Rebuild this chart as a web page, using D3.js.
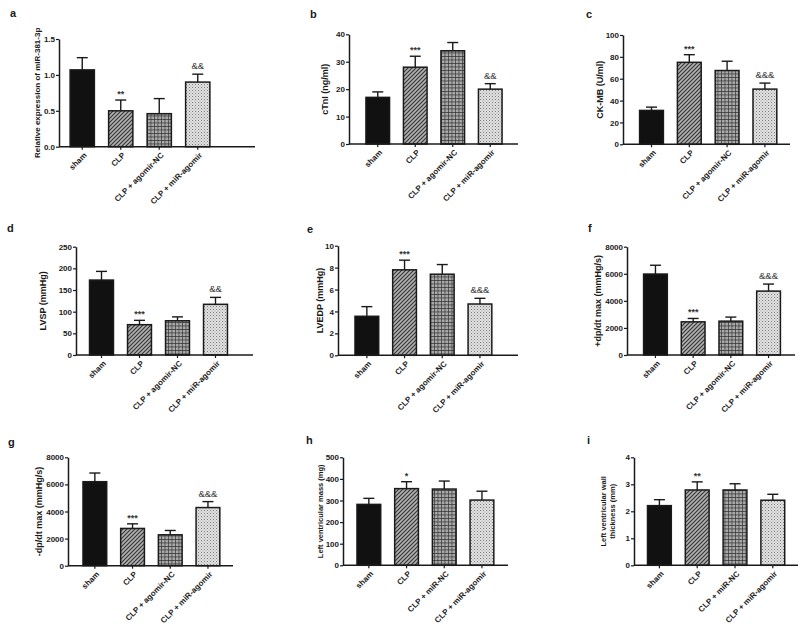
<!DOCTYPE html>
<html>
<head>
<meta charset="utf-8">
<script src="https://cdn.jsdelivr.net/npm/d3@7"></script>
<style>
  html, body { margin: 0; padding: 0; background: #fff; }
  svg { display: block; font-family: "Liberation Sans", Arial, sans-serif; }
</style>
</head>
<body>
<svg id="chart" width="800" height="627"></svg>
<script>
// ---------------- DATA ----------------
const categoriesAgomir = ["sham", "CLP", "CLP + agomir-NC", "CLP + miR-agomir"];
const categoriesMiR    = ["sham", "CLP", "CLP + miR-NC", "CLP + miR-agomir"];

const meanA = [1.07, 0.50, 0.46, 0.90];  const sdA = [0.17, 0.15, 0.21, 0.11];
const meanB = [17, 28, 34, 20];          const sdB = [2, 4, 3, 2];
const meanC = [31, 75, 67.5, 50.5];      const sdC = [3, 7, 8.5, 5.5];
const meanD = [173, 70, 79, 117];        const sdD = [20, 10, 9, 16];
const meanE = [3.56, 7.8, 7.4, 4.68];    const sdE = [0.88, 0.88, 0.88, 0.52];
const meanF = [5980, 2450, 2500, 4720];  const sdF = [650, 250, 300, 520];
const meanG = [6200, 2750, 2280, 4290];  const sdG = [640, 340, 320, 440];
const meanH = [282, 355, 353, 302];      const sdH = [28, 32, 37, 41];
const meanI = [2.21, 2.79, 2.79, 2.41];  const sdI = [0.22, 0.30, 0.23, 0.22];

const ticksA = [0, 0.5, 1.0, 1.5];
const ticksB = [0, 10, 20, 30, 40];
const ticksC = [0, 20, 40, 60, 80, 100];
const ticksD = [0, 50, 100, 150, 200, 250];
const ticksE = [0, 2, 4, 6, 8, 10];
const ticksF = [0, 2000, 4000, 6000, 8000];
const ticksG = [0, 2000, 4000, 6000, 8000];
const ticksH = [0, 100, 200, 300, 400, 500];
const ticksI = [0, 1, 2, 3, 4];

const annA = ["", "**", "", "&&"];
const annB = ["", "***", "", "&&"];
const annC = ["", "***", "", "&&&"];
const annD = ["", "***", "", "&&"];
const annE = ["", "***", "", "&&&"];
const annF = ["", "***", "", "&&&"];
const annG = ["", "***", "", "&&&"];
const annH = ["", "*", "", ""];
const annI = ["", "**", "", ""];

const titleA = ["Relative expression of miR-381-3p"];
const titleB = ["cTnI (ng/ml)"];
const titleC = ["CK-MB (U/ml)"];
const titleD = ["LVSP (mmHg)"];
const titleE = ["LVEDP (mmHg)"];
const titleF = ["+dp/dt max (mmHg/s)"];
const titleG = ["-dp/dt max (mmHg/s)"];
const titleH = ["Left ventricular mass (mg)"];
const titleI = ["Left ventricular wall", "thickness (mm)"];

const panelLetters = ["a", "b", "c", "d", "e", "f", "g", "h", "i"];

// ---------------- LAYOUT ----------------
const panels = [
  {cats: categoriesAgomir, mean: meanA, sd: sdA, ticks: ticksA, fmt: ".1f", title: titleA, ann: annA},
  {cats: categoriesAgomir, mean: meanB, sd: sdB, ticks: ticksB, fmt: "d",   title: titleB, ann: annB},
  {cats: categoriesAgomir, mean: meanC, sd: sdC, ticks: ticksC, fmt: "d",   title: titleC, ann: annC},
  {cats: categoriesAgomir, mean: meanD, sd: sdD, ticks: ticksD, fmt: "d",   title: titleD, ann: annD},
  {cats: categoriesAgomir, mean: meanE, sd: sdE, ticks: ticksE, fmt: "d",   title: titleE, ann: annE},
  {cats: categoriesAgomir, mean: meanF, sd: sdF, ticks: ticksF, fmt: "d",   title: titleF, ann: annF},
  {cats: categoriesAgomir, mean: meanG, sd: sdG, ticks: ticksG, fmt: "d",   title: titleG, ann: annG},
  {cats: categoriesMiR,    mean: meanH, sd: sdH, ticks: ticksH, fmt: "d",   title: titleH, ann: annH},
  {cats: categoriesMiR,    mean: meanI, sd: sdI, ticks: ticksI, fmt: "d",   title: titleI, ann: annI}
];

// ax: y-axis x; xEnd: end of x-axis line; top/bottom: pixel of max tick / zero
// b0,b1: band range; tx: title x; lx,ly: panel letter position; tfs: title font size
const layouts = [
  {ax: 59,  xEnd: 255, top: 39,    bottom: 146.7, b0: 63,    b1: 217,   tx: 37,  lx: 10,  ly: 17,  tfs: 8},
  {ax: 349, xEnd: 518, top: 34.3,  bottom: 144,   b0: 359,   b1: 509,   tx: 325, lx: 310, ly: 18,  tfs: 9},
  {ax: 623, xEnd: 790, top: 35,    bottom: 144.3, b0: 632.6, b1: 783.8, tx: 600, lx: 586, ly: 18,  tfs: 9},
  {ax: 76,  xEnd: 253, top: 246.7, bottom: 355,   b0: 82.5,  b1: 234.5, tx: 43,  lx: 7,   ly: 232, tfs: 9},
  {ax: 338, xEnd: 518, top: 245.7, bottom: 355.3, b0: 348,   b1: 498.8, tx: 320, lx: 307, ly: 233, tfs: 9},
  {ax: 627, xEnd: 795, top: 246.7, bottom: 355,   b0: 636.6, b1: 787.4, tx: 598, lx: 588, ly: 232, tfs: 9},
  {ax: 68,  xEnd: 233, top: 457.3, bottom: 565.7, b0: 76,    b1: 226.8, tx: 39,  lx: 8,   ly: 446, tfs: 9},
  {ax: 343, xEnd: 508, top: 457.3, bottom: 565.3, b0: 350,   b1: 500.8, tx: 320, lx: 306, ly: 444, tfs: 7.5},
  {ax: 634, xEnd: 798, top: 457.3, bottom: 565.3, b0: 640.5, b1: 791.7, tx: 608, lx: 587, ly: 444, tfs: 7.5}
];

const ink = "#1a1a1a";
const svg = d3.select("#chart");

// ---------------- PATTERNS ----------------
const defs = svg.append("defs");
const hatch = defs.append("pattern").attr("id", "hatch").attr("patternUnits", "userSpaceOnUse")
  .attr("width", 4).attr("height", 4);
hatch.append("rect").attr("width", 4).attr("height", 4).attr("fill", "#b0b0b0");
hatch.append("path").attr("d", "M-1,1 l2,-2 M0,4 l4,-4 M3,5 l2,-2")
  .attr("stroke", "#333").attr("stroke-width", 1.1);

const grid = defs.append("pattern").attr("id", "grid").attr("patternUnits", "userSpaceOnUse")
  .attr("width", 3.5).attr("height", 3.5);
grid.append("rect").attr("width", 3.5).attr("height", 3.5).attr("fill", "#a8a8a8");
grid.append("path").attr("d", "M0,0 H3.5 M0,0 V3.5").attr("stroke", "#2a2a2a").attr("stroke-width", 1.2);

const dots = defs.append("pattern").attr("id", "dots").attr("patternUnits", "userSpaceOnUse")
  .attr("width", 3).attr("height", 3);
dots.append("rect").attr("width", 3).attr("height", 3).attr("fill", "#e2e2e2");
dots.append("rect").attr("x", 0).attr("y", 0).attr("width", 1).attr("height", 1).attr("fill", "#7a7a7a");
dots.append("rect").attr("x", 1.5).attr("y", 1.5).attr("width", 1).attr("height", 1).attr("fill", "#9a9a9a");

const fills = ["#111", "url(#hatch)", "url(#grid)", "url(#dots)"];

// ---------------- DRAW ----------------
panels.forEach((p, k) => {
  const L = layouts[k];
  const g = svg.append("g");
  const maxV = p.ticks[p.ticks.length - 1];
  const y = d3.scaleLinear().domain([0, maxV]).range([L.bottom, L.top]);
  const x = d3.scaleBand().domain(p.cats).range([L.b0, L.b1]).paddingInner(0.37).paddingOuter(0.185);
  const bw = x.bandwidth();

  // panel letter
  g.append("text").attr("x", L.lx).attr("y", L.ly).text(panelLetters[k])
    .attr("font-size", 11).attr("font-weight", "bold").attr("fill", ink);

  // bars
  p.cats.forEach((c, i) => {
    const cx = x(c) + bw / 2;
    const yTop = y(p.mean[i]);
    const yErr = y(p.mean[i] + p.sd[i]);
    // error bar (upper only)
    g.append("line").attr("x1", cx).attr("x2", cx).attr("y1", yTop).attr("y2", yErr)
      .attr("stroke", ink).attr("stroke-width", 1.4);
    g.append("line").attr("x1", cx - 5.5).attr("x2", cx + 5.5).attr("y1", yErr).attr("y2", yErr)
      .attr("stroke", ink).attr("stroke-width", 1.4);
    g.append("rect").attr("x", x(c)).attr("y", yTop).attr("width", bw).attr("height", L.bottom - yTop)
      .attr("fill", fills[i]).attr("stroke", ink).attr("stroke-width", 1.5);
    if (p.ann[i]) {
      const isStar = p.ann[i].indexOf("*") >= 0;
      g.append("text").attr("x", cx).attr("y", yErr - (isStar ? 3 : 5)).text(p.ann[i])
        .attr("text-anchor", "middle").attr("font-size", isStar ? 9 : 9.5)
        .attr("font-weight", isStar ? "bold" : "normal").attr("fill", "#333");
    }
  });

  // y axis
  const yAxis = d3.axisLeft(y).tickValues(p.ticks).tickSize(3).tickSizeOuter(0)
    .tickFormat(d3.format(p.fmt));
  const ya = g.append("g").attr("transform", `translate(${L.ax},0)`).call(yAxis);
  ya.select(".domain").attr("stroke", ink).attr("stroke-width", 1.5);
  ya.selectAll(".tick line").attr("stroke", ink).attr("stroke-width", 1.2);
  ya.selectAll(".tick text").attr("font-size", 8).attr("font-weight", "bold")
    .attr("fill", ink).attr("font-family", "Liberation Sans, Arial, sans-serif").attr("x", -4);

  // x axis
  const xAxis = d3.axisBottom(x).tickSize(3).tickSizeOuter(0);
  const xa = g.append("g").attr("transform", `translate(0,${L.bottom})`).call(xAxis);
  xa.select(".domain").remove();
  xa.selectAll(".tick line").attr("stroke", ink).attr("stroke-width", 1.2);
  xa.selectAll(".tick text")
    .attr("font-size", 8).attr("font-weight", "bold").attr("fill", ink)
    .attr("font-family", "Liberation Sans, Arial, sans-serif")
    .attr("text-anchor", "end").attr("x", 0).attr("y", 0).attr("dy", 0)
    .attr("transform", "translate(5,9) rotate(-45)");
  g.append("line").attr("x1", L.ax).attr("x2", L.xEnd).attr("y1", L.bottom).attr("y2", L.bottom)
    .attr("stroke", ink).attr("stroke-width", 1.6);

  // y title
  const cy = (L.top + L.bottom) / 2;
  const t = g.append("text").attr("transform", `translate(${L.tx},${cy}) rotate(-90)`)
    .attr("text-anchor", "middle").attr("font-size", L.tfs).attr("font-weight", "bold").attr("fill", ink);
  const n = p.title.length;
  p.title.forEach((line, j) => {
    t.append("tspan").attr("x", 0).attr("y", (j - (n - 1) / 2) * (L.tfs * 1.15) + L.tfs * 0.35).text(line);
  });
});
</script>
</body>
</html>
